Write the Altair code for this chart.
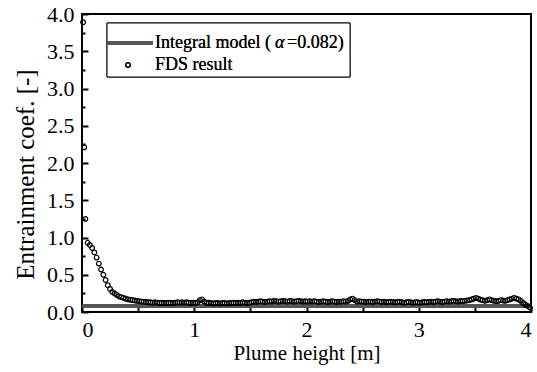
import altair as alt
import pandas as pd

# Near-field FDS samples (plume height [m], entrainment coef. [-])
near_x = [0.01, 0.02, 0.03, 0.05, 0.07, 0.09, 0.11, 0.13, 0.15, 0.17, 0.19, 0.21, 0.23,
          0.25, 0.27, 0.29, 0.31, 0.33, 0.35, 0.37, 0.39, 0.41, 0.43, 0.45, 0.47, 0.49]
near_y = [3.89, 2.21, 1.25, 0.93, 0.90, 0.86, 0.80, 0.73, 0.65, 0.57, 0.50, 0.43, 0.36,
          0.31, 0.27, 0.25, 0.23, 0.21, 0.20, 0.19, 0.18, 0.17, 0.165, 0.16, 0.155, 0.15]

# Far-field FDS samples, every 0.02 m from 0.51 m to 3.99 m
far_start = 0.51
far_step = 0.02
far_y = [
    0.145, 0.14, 0.14, 0.135, 0.13, 0.13, 0.125, 0.13, 0.125, 0.12, 0.125, 0.12, 0.12,
    0.125, 0.12, 0.12, 0.125, 0.13, 0.125, 0.13, 0.125, 0.13, 0.125, 0.12, 0.125,
    0.12, 0.13, 0.16, 0.17, 0.14, 0.12, 0.125, 0.12, 0.115, 0.12, 0.12, 0.115, 0.12,
    0.12, 0.115, 0.12, 0.12, 0.125, 0.12, 0.125, 0.12, 0.13, 0.125, 0.12, 0.125,
    0.13, 0.14, 0.135, 0.14, 0.145, 0.14, 0.135, 0.14, 0.145, 0.14, 0.15, 0.145, 0.14,
    0.145, 0.15, 0.145, 0.14, 0.15, 0.145, 0.14, 0.145, 0.15, 0.145, 0.14, 0.145,
    0.14, 0.145, 0.14, 0.145, 0.14, 0.135, 0.14, 0.145, 0.14, 0.135, 0.14, 0.145, 0.14,
    0.135, 0.14, 0.14, 0.145, 0.14, 0.15, 0.17, 0.18, 0.16, 0.14, 0.145, 0.14,
    0.14, 0.135, 0.14, 0.14, 0.135, 0.14, 0.145, 0.14, 0.135, 0.14, 0.13, 0.135, 0.14,
    0.135, 0.13, 0.135, 0.14, 0.13, 0.125, 0.13, 0.135, 0.13, 0.125, 0.13, 0.13,
    0.125, 0.13, 0.135, 0.13, 0.135, 0.14, 0.135, 0.14, 0.145, 0.14, 0.135, 0.14, 0.145,
    0.14, 0.145, 0.15, 0.145, 0.14, 0.15, 0.145, 0.15, 0.155, 0.16, 0.17, 0.18,
    0.19, 0.18, 0.165, 0.16, 0.15, 0.16, 0.17, 0.16, 0.15, 0.145, 0.15, 0.16, 0.155,
    0.15, 0.16, 0.17, 0.18, 0.19, 0.18, 0.17, 0.15, 0.12, 0.10, 0.08, 0.06,
]
far_x = [round(far_start + far_step * i, 2) for i in range(len(far_y))]

# Integral model (alpha = 0.082)
model_x = [0.0, 4.0]
model_y = [0.082, 0.082]

fds = pd.DataFrame({"h": near_x + far_x, "a": near_y + far_y})
model = pd.DataFrame({"h": model_x, "a": model_y})

FONT = "Liberation Serif"
W, H = 449, 298

x_scale = alt.Scale(domain=[0, 4], nice=False, zero=False)
y_scale = alt.Scale(domain=[0, 4], nice=False, zero=False)

x_major = alt.Axis(
    values=[0, 0.5, 1, 1.5, 2, 2.5, 3, 3.5, 4],
    labelExpr="datum.value % 1 ? '' : format(datum.value, 'd')",
    title="Plume height [m]",
    tickSize=5, offset=-5, labelPadding=7, domain=False,
    tickColor="black", tickWidth=2, grid=False,
    labelFont=FONT, labelFontSize=22, labelColor="black",
    titleFont=FONT, titleFontSize=21, titleFontWeight="normal", titleColor="black",
    titlePadding=2,
)
y_major = alt.Axis(
    values=[0, 0.5, 1, 1.5, 2, 2.5, 3, 3.5, 4],
    format=".1f",
    title="Entrainment coef. [-]",
    tickSize=6, offset=-6, labelPadding=8, domain=False,
    tickColor="black", tickWidth=2, grid=False,
    labelFont=FONT, labelFontSize=22, labelColor="black",
    titleFont=FONT, titleFontSize=25, titleFontWeight="normal", titleColor="black",
    titlePadding=8, titleY=160,
)
y_minor = alt.Axis(
    values=[0.25, 0.75, 1.25, 1.75, 2.25, 2.75, 3.25, 3.75],
    orient="left", labels=False, title=None,
    tickSize=3, offset=-3, domain=False, grid=False,
    tickColor="black", tickWidth=2,
)

line = alt.Chart(model).mark_line(color="#555555", strokeWidth=4).encode(
    x=alt.X("h:Q", scale=x_scale, axis=x_major),
    y=alt.Y("a:Q", scale=y_scale, axis=y_major),
)

points = alt.Chart(fds).mark_point(
    shape="circle", filled=False, color="black", strokeWidth=1.2, size=22, opacity=1
).encode(
    x=alt.X("h:Q", scale=x_scale, axis=None),
    y=alt.Y("a:Q", scale=y_scale, axis=y_minor),
)

# Legend box
leg_box = alt.Chart(model).mark_rect(
    fill="white", stroke="black", strokeWidth=1
).encode(
    x=alt.value(25), x2=alt.value(268), y=alt.value(9), y2=alt.value(63)
)
leg_line = alt.Chart(model).mark_rule(color="#555555", strokeWidth=4).encode(
    x=alt.value(25), x2=alt.value(71), y=alt.value(29), y2=alt.value(29)
)
leg_pt = alt.Chart(model).mark_point(
    shape="circle", filled=False, color="black", strokeWidth=1.2, size=22, opacity=1
).encode(x=alt.value(46), y=alt.value(51))
leg_t1 = alt.Chart(model).mark_text(
    text="Integral model (", font=FONT, fontSize=18, align="left",
    baseline="middle", color="black"
).encode(x=alt.value(73), y=alt.value(29))
leg_alpha = alt.Chart(model).mark_text(
    text="α", font=FONT, fontSize=18, fontStyle="italic", align="left",
    baseline="middle", color="black"
).encode(x=alt.value(193), y=alt.value(29))
leg_t1b = alt.Chart(model).mark_text(
    text="=0.082)", font=FONT, fontSize=18, align="left",
    baseline="middle", color="black"
).encode(x=alt.value(205), y=alt.value(29))
leg_t2 = alt.Chart(model).mark_text(
    text="FDS result", font=FONT, fontSize=18, align="left",
    baseline="middle", color="black"
).encode(x=alt.value(73), y=alt.value(51))

chart = alt.layer(
    line, points, leg_box, leg_line, leg_pt, leg_t1, leg_alpha, leg_t1b, leg_t2
).resolve_axis(x="independent", y="independent").properties(
    width=W, height=H,
    padding={"left": 82, "top": 14, "right": 6, "bottom": 60},
    autosize=alt.AutoSizeParams(type="none"),
    background="white",
).configure_view(stroke="black", strokeWidth=2)

chart.save("out.html", embed_options={"renderer": "svg", "actions": False})
